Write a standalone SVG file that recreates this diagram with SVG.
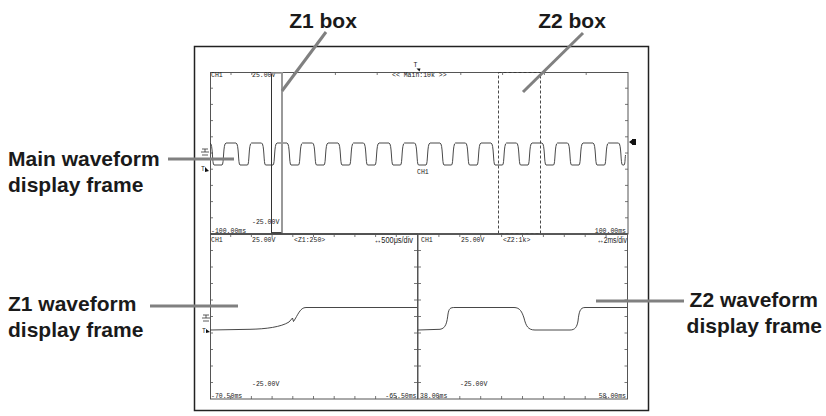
<svg xmlns="http://www.w3.org/2000/svg" width="826" height="416" viewBox="0 0 826 416">
<defs>
<style>
.lbl{font-family:"Liberation Sans",Arial,sans-serif;font-weight:bold;font-size:21px;fill:#1a1a1a}
.sm{font-family:"Liberation Mono","DejaVu Sans Mono",monospace;font-size:6.5px;fill:#222}
.md{font-family:"Liberation Sans",Arial,sans-serif;font-size:8.5px;fill:#222}
.frame{fill:none;stroke:#555;stroke-width:1}
.tick{fill:none;stroke:#555;stroke-width:0.8}
.wave{fill:none;stroke:#333;stroke-width:0.9}
.lead{fill:none;stroke:#808080;stroke-width:3}
</style>
</defs>
<rect width="826" height="416" fill="#fff"/>

<g id="screen">
<rect x="194.5" y="46.5" width="454" height="364" fill="none" stroke="#222" stroke-width="1.5"/>
</g>

<g id="main-frame">
<rect class="frame" x="210.5" y="72.5" width="417.5" height="161.5"/>
<path class="tick" d="M231,72v3 M251.8,72v3 M293.6,72v3 M335.4,72v3 M377.2,72v3 M460.8,72v3 M502.6,72v3 M544.4,72v3 M586.2,72v3
M210,88.2h3 M210,104.4h3 M210,120.6h3 M210,136.8h3 M210,153h3 M210,169.2h3 M210,185.4h3 M210,201.6h3 M210,217.8h3
M628,88.2h-3 M628,104.4h-3 M628,120.6h-3 M628,136.8h-3 M628,153h-3 M628,169.2h-3 M628,185.4h-3 M628,201.6h-3 M628,217.8h-3"/>
<path class="wave" d="M210,143 c3,0 2,22 4,22 h8
c2,0 1,-22 4,-22 h10 c3,0 2,22 4,22 h7.5
c2,0 1,-22 4,-22 h10 c3,0 2,22 4,22 h7.5
c2,0 1,-22 4,-22 h10 c3,0 2,22 4,22 h7.5
c2,0 1,-22 4,-22 h10 c3,0 2,22 4,22 h7.5
c2,0 1,-22 4,-22 h10 c3,0 2,22 4,22 h7.5
c2,0 1,-22 4,-22 h10 c3,0 2,22 4,22 h7.5
c2,0 1,-22 4,-22 h10 c3,0 2,22 4,22 h7.5
c2,0 1,-22 4,-22 h10 c3,0 2,22 4,22 h7.5
c2,0 1,-22 4,-22 h10 c3,0 2,22 4,22 h7.5
c2,0 1,-22 4,-22 h10 c3,0 2,22 4,22 h7.5
c2,0 1,-22 4,-22 h10 c3,0 2,22 4,22 h7.5
c2,0 1,-22 4,-22 h10 c3,0 2,22 4,22 h7.5
c2,0 1,-22 4,-22 h10 c3,0 2,22 4,22 h7.5
c2,0 1,-22 4,-22 h10 c3,0 2,22 4,22 h7.5
c2,0 1,-22 4,-22 h10 c3,0 2,22 4,22 h7.5
c2,0 1,-22 4,-22 h10 c3,0 2,22 4,22 h1.5
c1,0 1,-6 1.5,-10"/>
<text class="sm" x="211" y="77">CH1</text>
<text class="sm" x="252" y="77">25.00V</text>
<text class="sm" x="392" y="77">&lt;&lt; Main:10k &gt;&gt;</text>
<text class="sm" x="252" y="224">-25.00V</text>
<text class="sm" x="211" y="232.5">-100.00ms</text>
<text class="sm" x="626" y="232.5" text-anchor="end">100.00ms</text>
<text class="sm" x="417" y="174">CH1</text>
<text class="sm" x="413.5" y="67">T</text>
<path d="M416.5,68.5l3,3l1,-3z" fill="#111"/>
<path d="M629,142l4,-3v6z M632,139h4v6h-4z" fill="#111"/>
<path d="M201,152h8 M202,155h6 M205,152v-3 M202,149h6" fill="none" stroke="#333" stroke-width="0.8"/>
<text class="sm" x="201" y="171">T</text>
<path d="M205,167l4,4l-4,1z" fill="#111"/>
</g>

<g id="z1-box">
<line x1="271.5" y1="72" x2="271.5" y2="234" stroke="#333" stroke-width="1"/>
<line x1="282" y1="72" x2="282" y2="234" stroke="#999" stroke-width="2"/>
<line x1="271" y1="73" x2="283" y2="73" stroke="#999" stroke-width="1.5"/>
<rect x="271.5" y="232" width="10" height="2" fill="#444"/>
</g>

<g id="z2-box">
<rect x="498.5" y="72.5" width="42" height="161" fill="none" stroke="#333" stroke-width="0.9" stroke-dasharray="3,2"/>
</g>

<g id="z1-frame">
<rect class="frame" x="210.5" y="234" width="207" height="165"/>
<line x1="210" y1="234" x2="628" y2="234" stroke="#444" stroke-width="1.6"/>
<path class="tick" d="M230.7,234v3 M251.4,234v3 M272.1,234v3 M292.8,234v3 M313.5,234v3 M334.2,234v3 M354.9,234v3 M375.6,234v3 M396.3,234v3
M230.7,399v-3 M251.4,399v-3 M272.1,399v-3 M292.8,399v-3 M313.5,399v-3 M334.2,399v-3 M354.9,399v-3 M375.6,399v-3 M396.3,399v-3
M210,250.5h3 M210,267h3 M210,283.5h3 M210,300h3 M210,316.5h3 M210,333h3 M210,349.5h3 M210,366h3 M210,382.5h3
M417,250.5h-3 M417,267h-3 M417,283.5h-3 M417,300h-3 M417,316.5h-3 M417,333h-3 M417,349.5h-3 M417,366h-3 M417,382.5h-3"/>
<path class="wave" d="M210,330 L250,329.3 C266,329 281,327 289,322 L292.5,318 L293.5,321.5 C298,315 300,307.5 306,307.5 H417"/>
<text class="sm" x="211" y="242">CH1</text>
<text class="sm" x="252" y="242">25.00V</text>
<text class="sm" x="294" y="242">&lt;Z1:250&gt;</text>
<text class="md" x="374" y="243" textLength="39" lengthAdjust="spacingAndGlyphs">↔500μs/div</text>
<text class="sm" x="252" y="386">-25.00V</text>
<text class="sm" x="211" y="397.5">-70.50ms</text>
<text class="sm" x="416.5" y="397.5" text-anchor="end">-65.50ms</text>
<path d="M202,318h8 M203,321h6 M206,318v-3 M203,315h6" fill="none" stroke="#333" stroke-width="0.8"/>
<text class="sm" x="202" y="333">T</text>
<path d="M206,329l4,3l-4,1z" fill="#111"/>
</g>

<g id="z2-frame">
<rect class="frame" x="418" y="234" width="209.5" height="165"/>
<path class="tick" d="M438.9,234v3 M459.8,234v3 M480.7,234v3 M501.6,234v3 M522.5,234v3 M543.4,234v3 M564.3,234v3 M585.2,234v3 M606.1,234v3
M438.9,399v-3 M459.8,399v-3 M480.7,399v-3 M501.6,399v-3 M522.5,399v-3 M543.4,399v-3 M564.3,399v-3 M585.2,399v-3 M606.1,399v-3
M418,250.5h3 M418,267h3 M418,283.5h3 M418,300h3 M418,316.5h3 M418,333h3 M418,349.5h3 M418,366h3 M418,382.5h3
M627.5,250.5h-3 M627.5,267h-3 M627.5,283.5h-3 M627.5,300h-3 M627.5,316.5h-3 M627.5,333h-3 M627.5,349.5h-3 M627.5,366h-3 M627.5,382.5h-3"/>
<path class="wave" d="M418,330 L440,329.3 C446,328.5 447,322 448,314 C449,308.5 450,307.5 455,307.5 H514 C520,307.5 522,312 524,318 C526,326 528,330 535,330 H570 C575,330 577,327 578,321 C579,312 580,307.5 585,307.5 H627"/>
<text class="sm" x="421" y="242">CH1</text>
<text class="sm" x="461" y="242">25.00V</text>
<text class="sm" x="503" y="242">&lt;Z2:1k&gt;</text>
<text class="md" x="597" y="243" textLength="30" lengthAdjust="spacingAndGlyphs">↔2ms/div</text>
<text class="sm" x="460" y="386">-25.00V</text>
<text class="sm" x="420" y="397.5">38.00ms</text>
<text class="sm" x="626" y="397.5" text-anchor="end">58.00ms</text>
</g>

<g id="connectors">
<line class="lead" x1="326" y1="32" x2="282" y2="91"/>
<line class="lead" x1="583" y1="33" x2="523" y2="92"/>
<line class="lead" x1="168" y1="159" x2="234" y2="159"/>
<line class="lead" x1="150" y1="306" x2="238" y2="306"/>
<line class="lead" x1="596" y1="301" x2="684" y2="301"/>
</g>

<g id="label-z1box"><text class="lbl" x="323" y="28" text-anchor="middle">Z1 box</text></g>
<g id="label-z2box"><text class="lbl" x="572" y="28" text-anchor="middle">Z2 box</text></g>
<g id="label-main"><text class="lbl" x="8" y="166">Main waveform</text><text class="lbl" x="8" y="192">display frame</text></g>
<g id="label-z1"><text class="lbl" x="8" y="311">Z1 waveform</text><text class="lbl" x="8" y="337">display frame</text></g>
<g id="label-z2"><text class="lbl" x="818" y="307" text-anchor="end">Z2 waveform</text><text class="lbl" x="822" y="333" text-anchor="end">display frame</text></g>
</svg>
